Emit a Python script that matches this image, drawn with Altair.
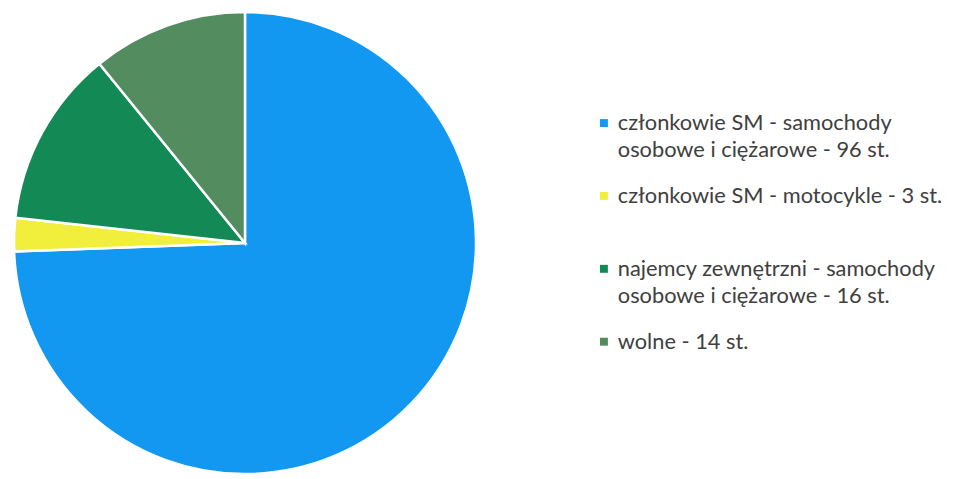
import altair as alt
import pandas as pd

categories = ["cz_sam", "cz_moto", "najem", "wolne"]
values = [96, 3, 16, 14]
colors = ["#1298f0", "#f2ef3c", "#138a56", "#538c5f"]
labels = [
    "członkowie SM - samochody\nosobowe i ciężarowe - 96 st.",
    "członkowie SM - motocykle - 3 st.",
    "najemcy zewnętrzni - samochody\nosobowe i ciężarowe - 16 st.",
    "wolne - 14 st.",
]

pie_df = pd.DataFrame({"cat": categories, "value": values, "order": list(range(len(categories)))})

sym_rows = []
txt_rows = []
for i, (c, lab) in enumerate(zip(categories, labels)):
    sym_rows.append({"cat": c, "slot": i})
    for j, line in enumerate(lab.split("\n")):
        txt_rows.append({"cat": c, "slot": i + j * 0.37, "line": line})
sym_df = pd.DataFrame(sym_rows)
txt_df = pd.DataFrame(txt_rows)

color_scale = alt.Scale(domain=categories, range=colors)
yscale = alt.Scale(domain=[0, 3], range=[114, 334.5])

pie = alt.Chart(pie_df).mark_arc(radius=233, stroke="white", strokeWidth=2.5).encode(
    theta=alt.Theta("value:Q", stack=True),
    order=alt.Order("order:Q"),
    color=alt.Color("cat:N", scale=color_scale, legend=None),
    x=alt.value(239),
    y=alt.value(235),
)

syms = alt.Chart(sym_df).mark_square(size=64, opacity=1).encode(
    x=alt.value(601),
    y=alt.Y("slot:Q", scale=yscale, axis=None),
    color=alt.Color("cat:N", scale=color_scale, legend=None),
)

texts = alt.Chart(txt_df).mark_text(
    align="left", baseline="middle", font="Lato", fontSize=22, color="#404040"
).encode(
    x=alt.value(615),
    y=alt.Y("slot:Q", scale=yscale, axis=None),
    text="line:N",
)

chart = alt.layer(pie, syms, texts).properties(
    width=945, height=480, padding=0, autosize=alt.AutoSizeParams(type="none")
).configure_view(stroke=None)

chart.save("out.html", embed_options={"renderer": "svg", "actions": False})
